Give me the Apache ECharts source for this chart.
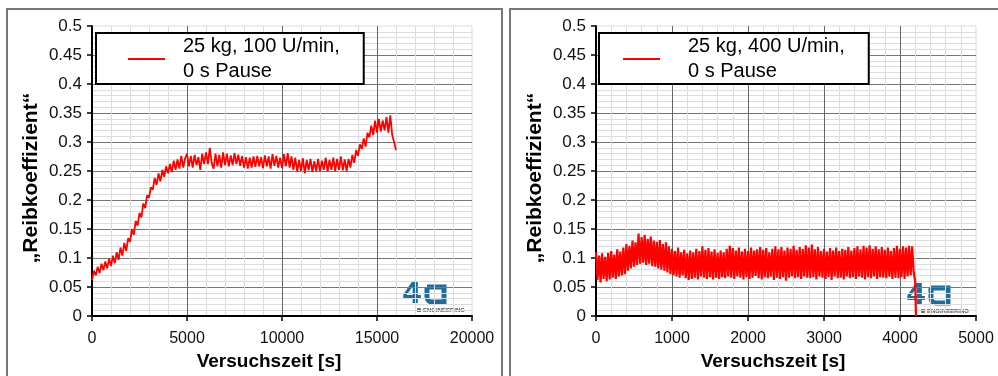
<!DOCTYPE html>
<html>
<head>
<meta charset="utf-8">
<script src="https://cdn.jsdelivr.net/npm/echarts@6/dist/echarts.min.js"></script>
<style>
  html, body { margin: 0; padding: 0; background: #fff; }
  #chart-container { width: 998px; height: 376px; }
</style>
</head>
<body>
<div id="chart-container"></div>
<script>
// left test: 25 kg, 100 U/min, one value every 100 s
const leftName = '25 kg, 100 U/min,\n0 s Pause';
const leftStep = 100;
const leftValues = [
  0.062, 0.078, 0.070, 0.085, 0.074, 0.090, 0.079, 0.094, 0.082, 0.099,
  0.086, 0.104, 0.091, 0.110, 0.097, 0.118, 0.104, 0.126, 0.112, 0.134,
  0.128, 0.150, 0.140, 0.164, 0.156, 0.178, 0.170, 0.194, 0.186, 0.208,
  0.204, 0.222, 0.218, 0.238, 0.226, 0.246, 0.232, 0.252, 0.240, 0.258,
  0.246, 0.262, 0.248, 0.268, 0.252, 0.270, 0.254, 0.276, 0.256, 0.272,
  0.280, 0.258, 0.276, 0.256, 0.278, 0.260, 0.274, 0.252, 0.280, 0.262,
  0.282, 0.262, 0.290, 0.264, 0.254, 0.280, 0.258, 0.278, 0.256, 0.282,
  0.260, 0.280, 0.258, 0.277, 0.260, 0.281, 0.262, 0.278, 0.259, 0.276,
  0.256, 0.274, 0.254, 0.273, 0.256, 0.275, 0.257, 0.276, 0.258, 0.274,
  0.255, 0.277, 0.258, 0.275, 0.254, 0.279, 0.259, 0.276, 0.256, 0.273,
  0.255, 0.279, 0.258, 0.281, 0.256, 0.275, 0.252, 0.273, 0.249, 0.269,
  0.250, 0.272, 0.246, 0.269, 0.251, 0.271, 0.248, 0.267, 0.250, 0.271,
  0.249, 0.268, 0.252, 0.273, 0.249, 0.269, 0.252, 0.273, 0.250, 0.271,
  0.252, 0.275, 0.251, 0.270, 0.250, 0.271, 0.256, 0.278, 0.264, 0.286,
  0.276, 0.296, 0.288, 0.306, 0.292, 0.316, 0.308, 0.328, 0.312, 0.337,
  0.316, 0.340, 0.318, 0.337, 0.320, 0.343, 0.316, 0.346, 0.312, 0.300, 0.286
];

// right test: 25 kg, 400 U/min, one value every 20 s
const rightName = '25 kg, 400 U/min,\n0 s Pause';
const rightStep = 20;
const rightValues = [
  0.110, 0.062, 0.104, 0.058, 0.108, 0.064, 0.102, 0.060, 0.109, 0.063,
  0.112, 0.066, 0.106, 0.064, 0.115, 0.068, 0.111, 0.070, 0.118, 0.072,
  0.124, 0.078, 0.121, 0.082, 0.130, 0.085, 0.127, 0.088, 0.142, 0.090,
  0.136, 0.092, 0.140, 0.088, 0.133, 0.090, 0.137, 0.086, 0.130, 0.085,
  0.128, 0.082, 0.131, 0.080, 0.124, 0.078, 0.127, 0.075, 0.120, 0.072,
  0.116, 0.070, 0.112, 0.068, 0.118, 0.066, 0.110, 0.070, 0.114, 0.065,
  0.108, 0.062, 0.113, 0.064, 0.110, 0.066, 0.116, 0.063, 0.112, 0.068,
  0.120, 0.066, 0.114, 0.064, 0.117, 0.067, 0.111, 0.063, 0.115, 0.066,
  0.109, 0.064, 0.113, 0.067, 0.110, 0.065, 0.116, 0.068, 0.121, 0.066,
  0.117, 0.064, 0.113, 0.068, 0.118, 0.066, 0.111, 0.063, 0.116, 0.067,
  0.112, 0.064, 0.118, 0.066, 0.113, 0.069, 0.115, 0.065, 0.119, 0.063,
  0.114, 0.067, 0.117, 0.065, 0.110, 0.068, 0.116, 0.062, 0.120, 0.066,
  0.115, 0.064, 0.119, 0.067, 0.113, 0.061, 0.118, 0.066, 0.116, 0.068,
  0.121, 0.065, 0.114, 0.067, 0.119, 0.064, 0.116, 0.068, 0.122, 0.066,
  0.118, 0.065, 0.123, 0.067, 0.115, 0.063, 0.119, 0.068, 0.112, 0.066,
  0.116, 0.064, 0.111, 0.067, 0.117, 0.062, 0.113, 0.068, 0.118, 0.065,
  0.112, 0.066, 0.116, 0.063, 0.114, 0.068, 0.119, 0.065, 0.113, 0.067,
  0.117, 0.064, 0.120, 0.068, 0.115, 0.066, 0.121, 0.063, 0.118, 0.067,
  0.122, 0.065, 0.116, 0.068, 0.120, 0.064, 0.115, 0.067, 0.119, 0.066,
  0.114, 0.065, 0.118, 0.068, 0.112, 0.064, 0.117, 0.066, 0.121, 0.065,
  0.116, 0.067, 0.120, 0.064, 0.118, 0.068, 0.121, 0.070, 0.120, 0.075
];
// end of the test: drop to zero
const rightTailTime = [4200, 4210];
const rightTailValue = [0.06, 0];

const yMin = 0, yMax = 0.5, yInterval = 0.05;
const leftXMax = 20000, leftXInterval = 5000;
const rightXMax = 5000, rightXInterval = 1000;

const leftData = leftValues.map((v, i) => [i * leftStep, v]);
const rightData = rightValues.map((v, i) => [i * rightStep, v])
  .concat(rightTailTime.map((t, i) => [t, rightTailValue[i]]));

var chartDom = document.getElementById('chart-container');
var myChart = echarts.init(chartDom, null, {renderer: 'canvas'});

const font = 'Liberation Sans, Arial, sans-serif';

function makeXAxis(idx, max, interval) {
  return {
    type: 'value',
    gridIndex: idx,
    min: 0,
    max: max,
    interval: interval,
    name: 'Versuchszeit [s]',
    nameLocation: 'middle',
    nameGap: 34,
    nameTextStyle: {fontFamily: font, fontSize: 19, fontWeight: 'bold', color: '#000', padding: [0, 26, 0, 0]},
    axisLine: {onZero: false, lineStyle: {color: '#000', width: 2}},
    axisTick: {show: true, length: 5, lineStyle: {color: '#000', width: 1.5}},
    axisLabel: {fontFamily: font, fontSize: 16, color: '#111', margin: 15, formatter: (v) => String(v)},
    splitLine: {show: true, showMinLine: false, showMaxLine: false, lineStyle: {color: '#666', width: 1}},
    minorTick: {show: false, splitNumber: 5},
    minorSplitLine: {show: true, lineStyle: {color: '#dcdcdc', width: 1}}
  };
}

function makeYAxis(idx) {
  return {
    type: 'value',
    gridIndex: idx,
    min: yMin,
    max: yMax,
    interval: yInterval,
    name: '\u201EReibkoeffizient\u201C',
    nameLocation: 'middle',
    nameGap: 50,
    nameTextStyle: {fontFamily: font, fontSize: 21, fontWeight: 'bold', color: '#000', padding: [0, 14, 0, 0]},
    axisLine: {show: true, onZero: false, lineStyle: {color: '#000', width: 2}},
    axisTick: {show: true, length: 5, lineStyle: {color: '#000', width: 1.5}},
    axisLabel: {fontFamily: font, fontSize: 17, color: '#111', margin: 10},
    splitLine: {show: true, showMinLine: false, showMaxLine: false, lineStyle: {color: '#777', width: 1}},
    minorTick: {show: false, splitNumber: 5},
    minorSplitLine: {show: true, lineStyle: {color: '#dcdcdc', width: 1}}
  };
}

function makeLegend(name, left, pad, textPad) {
  return {
    data: [name],
    left: left,
    top: 33,
    orient: 'vertical',
    icon: 'rect',
    itemWidth: 37,
    itemHeight: 2,
    padding: pad,
    borderColor: '#000',
    borderWidth: 2,
    backgroundColor: '#fff',
    selectedMode: false,
    textStyle: {fontFamily: font, fontSize: 20, lineHeight: 25, color: '#000', padding: [0, 0, 0, textPad]}
  };
}

function makeLogo(x, y) {
  return {
    type: 'group',
    x: x,
    y: y,
    children: [
      {type: 'text', x: 0, y: -3, style: {text: '4', font: 'bold 29px DejaVu Sans', fill: '#1f6c9b'}},
      {type: 'rect', shape: {x: 25, y: 3, width: 17, height: 15, r: [0, 0, 0, 5]},
        style: {fill: 'none', stroke: '#1f6c9b', lineWidth: 5}},
      {type: 'rect', shape: {x: 15, y: 24, width: 4, height: 4}, style: {fill: '#777'}},
      {type: 'text', x: 21, y: 23, style: {text: 'ENGINEERING', font: 'bold 6px Liberation Sans', fill: '#555'}}
    ]
  };
}

var option = {
  backgroundColor: '#fff',
  animation: false,
  grid: [
    {left: 92, top: 26, width: 380, height: 290, show: true, borderColor: '#dcdcdc', borderWidth: 1},
    {left: 596, top: 26, width: 380, height: 290, show: true, borderColor: '#dcdcdc', borderWidth: 1}
  ],
  legend: [
    makeLegend(leftName, 96, [1, 24, 0, 32], 13),
    makeLegend(rightName, 599, [1, 24, 0, 24], 23)
  ],
  xAxis: [makeXAxis(0, leftXMax, leftXInterval), makeXAxis(1, rightXMax, rightXInterval)],
  yAxis: [makeYAxis(0), makeYAxis(1)],
  series: [
    {
      name: leftName,
      type: 'line',
      xAxisIndex: 0,
      yAxisIndex: 0,
      showSymbol: false,
      color: '#ff0000',
      lineStyle: {width: 1.8, color: '#ff0000'},
      data: leftData
    },
    {
      name: rightName,
      type: 'line',
      xAxisIndex: 1,
      yAxisIndex: 1,
      showSymbol: false,
      color: '#ff0000',
      lineStyle: {width: 2.2, color: '#ff0000'},
      data: rightData
    }
  ],
  graphic: [
    {type: 'rect', shape: {x: 7, y: 9, width: 495, height: 380}, style: {fill: 'none', stroke: '#777', lineWidth: 2}, z: -1},
    {type: 'rect', shape: {x: 510, y: 9, width: 495, height: 380}, style: {fill: 'none', stroke: '#777', lineWidth: 2}, z: -1},
    makeLogo(402, 284),
    makeLogo(906, 285)
  ]
};

option && myChart.setOption(option);
</script>
</body>
</html>
